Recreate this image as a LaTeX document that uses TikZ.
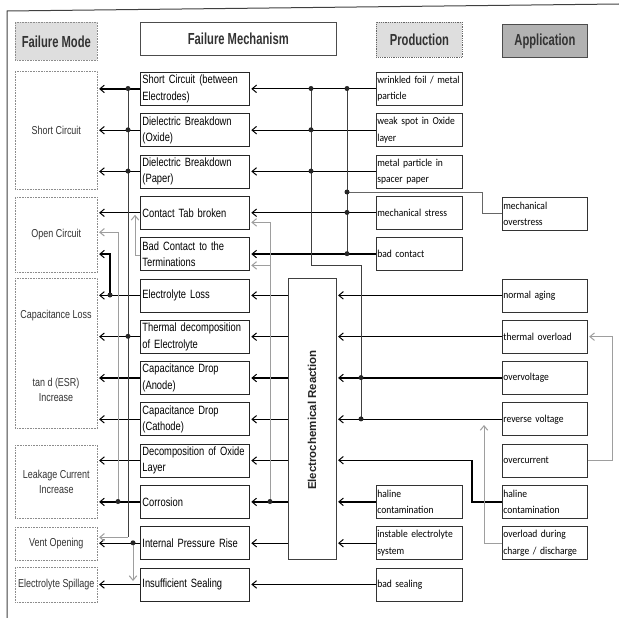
\documentclass[tikz,border=0pt]{standalone}
\usepackage{fontspec}
\setmainfont{Liberation Sans}
\newfontfamily\narrowsans{Liberation Sans}[FakeStretch=0.78]
\newfontfamily\headsans{Liberation Sans}[FakeStretch=0.7]
\newfontfamily\calsans{Carlito}[FakeStretch=0.9]
\usetikzlibrary{arrows.meta,calc}

\tikzset{
  modebox/.style={draw=black!45, densely dotted, line width=0.6pt, anchor=north west,
    minimum width=82pt, inner sep=0pt, align=center, text=black!80,
    font=\narrowsans\fontsize{11.5}{15}\selectfont},
  modetext/.style={inner sep=0pt, align=center, text=black!80,
    font=\narrowsans\fontsize{11.5}{15}\selectfont},
  mechbox/.style={draw=black!85, line width=0.8pt, anchor=north west,
    minimum height=33pt, text width=105pt, inner xsep=2pt, inner ysep=0pt,
    align=left, font=\narrowsans\fontsize{12}{16.5}\selectfont},
  prodbox/.style={draw=black!80, line width=0.7pt, anchor=north west,
    minimum height=33pt, text width=84pt, inner xsep=1pt, inner ysep=0pt,
    align=left, font=\calsans\fontsize{10.6}{16.5}\selectfont},
  appbox/.style={prodbox, text width=83pt},
  hdr/.style={anchor=north west, inner sep=0pt, text=black!80,
    font=\headsans\bfseries\fontsize{16}{18}\selectfont},
  ecbox/.style={draw=black!75, line width=0.6pt, anchor=north west, inner sep=0pt,
    minimum width=48pt, minimum height=281pt},
  arr/.style={line width=1.3pt, shorten >=1.5pt,
    -{Straight Barb[length=4.5pt,width=7.5pt,line width=1pt]}},
  garr/.style={arr, draw=black!38, line width=0.9pt},
  bus/.style={line width=0.75pt, draw=black!75},
  gbus/.style={bus, draw=black!38},
  jdot/.style={circle, fill=black!85, inner sep=0pt, minimum size=5pt},
}

\begin{document}
\begin{tikzpicture}[x=1pt,y=-1pt]
\useasboundingbox (0,0) rectangle (619,618);

% frame
\draw[line width=1pt, black!75] (7,618) -- (7,11) -- (619,4);

% column headers
\node[hdr, draw=black!45, densely dotted, line width=0.6pt, fill=black!13,
  minimum width=82pt, minimum height=38pt] (hMode) at (15,22) {Failure Mode};
\node[hdr, draw=black!70, line width=0.6pt, fill=white,
  minimum width=196pt, minimum height=33pt] (hMech) at (140,22) {Failure Mechanism};
\node[hdr, draw=black!60, densely dotted, line width=0.8pt, fill=black!13,
  minimum width=86pt, minimum height=35pt] (hProd) at (376,22) {Production};
\node[hdr, draw=black!70, line width=0.8pt, fill=black!30,
  minimum width=85pt, minimum height=33pt] (hApp) at (502,24) {Application};

% failure modes
\node[modebox, minimum height=118pt] (mSC) at (15,71) {Short Circuit};
\node[modebox, minimum height=75pt] (mOC) at (15,197) {Open Circuit};
\node[modebox, minimum height=150pt] (mCL) at (15,278) {};
\node[modetext] (tCL1) at (56,316) {Capacitance Loss};
\node[modetext] (tCL2) at (56,390) {tan d (ESR)\\Increase};
\node[modebox, minimum height=73pt] (mLC) at (15,445) {Leakage Current\\Increase};
\node[modebox, minimum height=33pt] (mVO) at (15,527) {Vent Opening};
\node[modebox, minimum height=35pt] (mES) at (15,567) {Electrolyte Spillage};

% failure mechanisms
\node[mechbox] (me1) at (140,72) {Short Circuit (between\\Electrodes)};
\node[mechbox] (me2) at (140,113.3) {Dielectric Breakdown\\(Oxide)};
\node[mechbox] (me3) at (140,154.6) {Dielectric Breakdown\\(Paper)};
\node[mechbox] (me4) at (140,195.9) {Contact Tab broken};
\node[mechbox] (me5) at (140,237.2) {Bad Contact to the\\Terminations};
\node[mechbox] (me6) at (140,278.5) {Electrolyte Loss};
\node[mechbox] (me7) at (140,319.8) {Thermal decomposition\\of Electrolyte};
\node[mechbox] (me8) at (140,361.1) {Capacitance Drop\\(Anode)};
\node[mechbox] (me9) at (140,402.4) {Capacitance Drop\\(Cathode)};
\node[mechbox] (me10) at (140,443.7) {Decomposition of Oxide\\Layer};
\node[mechbox] (me11) at (140,485) {Corrosion};
\node[mechbox] (me12) at (140,526.3) {Internal Pressure Rise};
\node[mechbox] (me13) at (140,567.6) {Insufficient Sealing};

% production causes
\node[prodbox] (pr1) at (376,72) {wrinkled foil / metal\\particle};
\node[prodbox] (pr2) at (376,113.3) {weak spot in Oxide\\layer};
\node[prodbox] (pr3) at (376,154.6) {metal particle in\\spacer paper};
\node[prodbox] (pr4) at (376,195.9) {mechanical stress};
\node[prodbox] (pr5) at (376,237.2) {bad contact};
\node[prodbox] (pr11) at (376,485) {haline\\contamination};
\node[prodbox] (pr12) at (376,526.3) {instable electrolyte\\system};
\node[prodbox] (pr13) at (376,567.6) {bad sealing};

% application causes
\node[appbox] (apMO) at (502,197) {mechanical\\overstress};
\node[appbox] (ap6) at (502,278.5) {normal aging};
\node[appbox] (ap7) at (502,319.8) {thermal overload};
\node[appbox] (ap8) at (502,361.1) {overvoltage};
\node[appbox] (ap9) at (502,402.4) {reverse voltage};
\node[appbox] (ap10) at (502,443.7) {overcurrent};
\node[appbox] (ap11) at (502,485) {haline\\contamination};
\node[appbox] (ap12) at (502,526.3) {overload during\\charge / discharge};

% electrochemical reaction block
\node[ecbox] (ec) at (288,278) {};
\node[rotate=90, inner sep=0pt, text=black!85,
  font=\bfseries\fontsize{11.5}{13}\selectfont] (ecText) at (312,420) {Electrochemical Reaction};

% junction points
\coordinate (dA1) at (128,88.5);
\coordinate (dA2) at (128,129.8);
\coordinate (dA3) at (128,171.1);
\coordinate (dA4) at (128,336.3);
\coordinate (dF) at (110,295);
\coordinate (dG) at (118,501.5);
\coordinate (dH) at (133,542.8);
\coordinate (dB1) at (311,88.5);
\coordinate (dB2) at (311,129.8);
\coordinate (dB3) at (311,171.1);
\coordinate (bT) at (311,265);
\coordinate (dC1) at (361,377.6);
\coordinate (dC2) at (361,418.9);
\coordinate (dD1) at (347,88.5);
\coordinate (dD2) at (347,192);
\coordinate (dD3) at (347,212.4);
\coordinate (dD4) at (347,253.7);
\coordinate (dE) at (270,501.5);
\coordinate (moT) at (482,192);
\coordinate (hcT) at (472,460.2);
\coordinate (olT) at (484,425);
\coordinate (vo) at ([yshift=6.5pt]mVO.east);
\coordinate (oc) at ([yshift=2.5pt]mOC.east);
\coordinate (g4) at ([yshift=-9.6pt]me4.east);
\coordinate (g5) at ([yshift=-11.3pt]me5.east);
\coordinate (tabTip) at ([xshift=-5pt,yshift=-2pt]me4.west);

% mechanism -> failure mode
\foreach \i in {1,2,3} \draw[arr] (me\i.west) -- (me\i.west -| mSC.east);
\draw[arr] (me4.west) -- (me4.west -| mOC.east);
\foreach \i in {6,7,8,9} \draw[arr] (me\i.west) -- (me\i.west -| mCL.east);
\foreach \i in {10,11} \draw[arr] (me\i.west) -- (me\i.west -| mLC.east);
\draw[arr] (me12.west) -- (me12.west -| mVO.east);
\draw[arr] (me13.west) -- (me13.west -| mES.east);

% cross links on the left
\draw[bus] (dA1) -- (dA1 |- vo);
\draw[garr] (dA1 |- vo) -- (vo);
\draw[gbus] (dG) -- (dG |- oc);
\draw[garr] (dG |- oc) -- (oc);
\draw[arr] (dF) |- (me5.west -| mOC.east);
\draw[garr, shorten >=0pt] ([yshift=-1.3pt]me5.west) -| (tabTip);
\draw[garr, shorten >=0pt] (dH) -- ($(dH |- me13.west)+(0,-3.5)$);

% production -> mechanism
\foreach \i in {1,...,5} \draw[arr] (pr\i.west) -- (pr\i.west -| me\i.east);
\draw[arr] (pr13.west) -- (pr13.west -| me13.east);

% electrochemical reaction -> mechanism
\foreach \i in {6,...,12} \draw[arr] (me\i.east -| ec.west) -- (me\i.east);

% causes -> electrochemical reaction
\foreach \i in {6,...,9} \draw[arr] (ap\i.west) -- (ap\i.west -| ec.east);
\foreach \i in {11,12} \draw[arr] (pr\i.west) -- (pr\i.west -| ec.east);
\draw[arr] (ap11.west) -| (hcT) -- (hcT -| ec.east);

% buses on the right
\draw[bus] (dB1) -- (bT) -| (dC2);
\draw[bus] (dD1) -- (dD4);
\draw[bus, draw=black!60] (dD2) -- (moT) |- (apMO.west);
\draw[garr] (dE) |- (g4);
\draw[garr] (dE |- g5) -- (g5);
\draw[garr, shorten >=0pt] (ap12.west) -| (olT);
\draw[garr] (ap10.east) -- ++(25,0) |- (ap7.east);

% junction dots
\foreach \p in {dA1,dA2,dA3,dA4,dF,dG,dH,dB1,dB2,dB3,dC1,dC2,dD1,dD2,dD3,dD4,dE}
  \node[jdot] (dot-\p) at (\p) {};
\end{tikzpicture}
\end{document}
